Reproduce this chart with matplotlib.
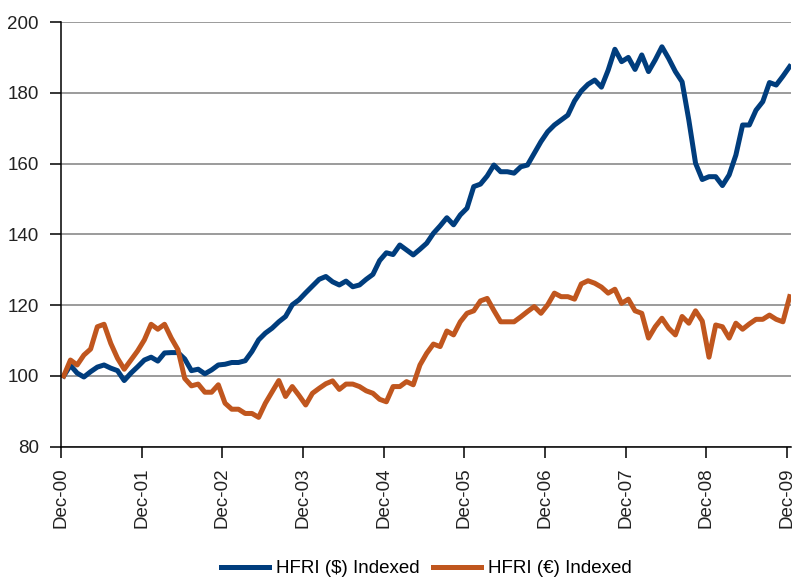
import numpy as np
import matplotlib
matplotlib.use("Agg")
import matplotlib.pyplot as plt

# monthly index levels, Dec-00 = 100
hfri_usd = [100, 103, 100.8, 99.7, 101.2, 102.5, 103.1, 102.2, 101.5, 98.7,
            100.8, 102.6, 104.5, 105.3, 104.2, 106.5, 106.6, 106.6, 104.8, 101.5,
            101.9, 100.6, 101.7, 103.1, 103.3, 103.8, 103.8, 104.3, 106.9, 110.2,
            112.1, 113.5, 115.3, 116.8, 120.1, 121.5, 123.5, 125.4, 127.3, 128.1,
            126.6, 125.7, 126.8, 125.2, 125.7, 127.3, 128.7, 132.6, 134.8, 134.3,
            137, 135.6, 134.2, 135.8, 137.5, 140.3, 142.4, 144.7, 142.7, 145.5,
            147.4, 153.5, 154.2, 156.5, 159.6, 157.7, 157.7, 157.3, 159.1, 159.6,
            162.9, 166.2, 169, 170.9, 172.3, 173.7, 177.7, 180.5, 182.4, 183.6,
            181.6, 186.4, 192.3, 188.8, 190, 186.6, 190.7, 186, 189.3, 193,
            189.7, 186, 183.1, 172.3, 160.1, 155.5, 156.3, 156.3, 153.8, 156.8,
            162.4, 170.9, 170.9, 175.1, 177.5, 182.9, 182.2, 184.7, 187.4]

hfri_eur = [100, 104.5, 103.1, 105.9, 107.6, 113.9, 114.6, 109.2, 105, 101.9,
            104.5, 107.1, 110.2, 114.6, 113.2, 114.6, 110.7, 107.4, 99.3, 97.2,
            97.7, 95.4, 95.4, 97.5, 92.3, 90.6, 90.6, 89.4, 89.4, 88.3,
            92.3, 95.5, 98.7, 94.2, 97, 94.5, 91.8, 95.1, 96.5, 97.8,
            98.6, 96.2, 97.7, 97.7, 97, 95.8, 95.1, 93.4, 92.7, 97,
            97, 98.4, 97.5, 103.1, 106.4, 109, 108.3, 112.7, 111.6, 115.3,
            117.7, 118.4, 121.2, 121.9, 118.5, 115.3, 115.3, 115.3, 116.7, 118.2,
            119.6, 117.7, 120.1, 123.4, 122.4, 122.4, 121.7, 126, 126.9, 126.2,
            125.1, 123.4, 124.5, 120.5, 121.7, 118.4, 117.7, 110.7, 113.9, 116.3,
            113.5, 111.6, 116.8, 114.9, 118.4, 115.5, 105.3, 114.4, 113.9, 110.7,
            114.9, 113.2, 114.7, 116, 116, 117.2, 116, 115.3, 122.4]

year_labels = ["Dec-00", "Dec-01", "Dec-02", "Dec-03", "Dec-04",
               "Dec-05", "Dec-06", "Dec-07", "Dec-08", "Dec-09"]
series_names = ["HFRI ($) Indexed", "HFRI (\u20ac) Indexed"]

plt.rcParams['font.family'] = ['Liberation Sans', 'DejaVu Sans']
fsize = 13.5

months = np.arange(len(hfri_usd))

fig = plt.figure(figsize=(8.01, 5.81), dpi=100)
ax = fig.add_axes([0.0762, 0.2311, 0.9113, 0.731])

ax.plot(months, hfri_usd, color='#003d7d', lw=3.6, label=series_names[0],
        solid_joinstyle='round')
ax.plot(months, hfri_eur, color='#c0561e', lw=3.6, label=series_names[1],
        solid_joinstyle='round')

ax.set_ylim(80, 200)
ax.set_yticks(np.arange(80, 201, 20))
ax.set_xlim(-0.4, 108.2)
ax.set_xticks(np.arange(0, len(hfri_usd), 12) - 0.4)
ax.set_xticklabels(year_labels, rotation=90)

ax.yaxis.grid(True, color='#808080', lw=1.1)
ax.set_axisbelow(True)
for side in ['top', 'right']:
    ax.spines[side].set_visible(False)
for side in ['left', 'bottom']:
    ax.spines[side].set_color('black')
    ax.spines[side].set_linewidth(1.1)

ax.tick_params(axis='both', direction='out', length=8, width=1.1,
               colors='black', labelsize=fsize, labelcolor='#222222')
ax.tick_params(axis='y', pad=8)
ax.tick_params(axis='x', pad=7)

fig.legend(loc='center', bbox_to_anchor=(0.532, 0.021), ncol=2, frameon=False,
           fontsize=fsize, handlelength=2.6, handletextpad=0.35,
           columnspacing=0.7)

fig.savefig("out.png", dpi=100)
